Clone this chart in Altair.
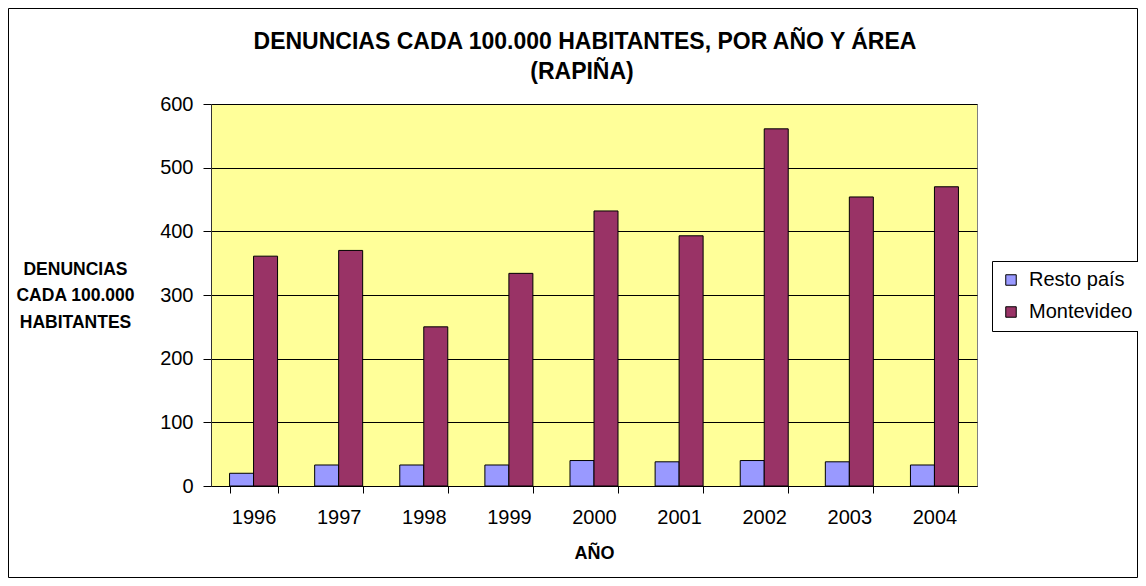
import altair as alt
import pandas as pd

years = ["1996", "1997", "1998", "1999", "2000", "2001", "2002", "2003", "2004"]
resto = [20, 33, 33, 33, 40, 38, 40, 38, 33]
montevideo = [361, 370, 250, 334, 432, 393, 561, 454, 470]
series = ["Resto país", "Montevideo"]
colors = ["#9999FF", "#993366"]
title_lines = ["DENUNCIAS CADA 100.000 HABITANTES, POR AÑO Y ÁREA", "(RAPIÑA)"]

rows = []
for i, y in enumerate(years):
    rows.append({"year": y, "serie": series[0], "value": resto[i]})
    rows.append({"year": y, "serie": series[1], "value": montevideo[i]})
df = pd.DataFrame(rows)

W, H = 766, 382
PL, PT, PR, PB = 203, 96, 161, 92
FONT = "Liberation Sans"

bars = alt.Chart(df).mark_bar(stroke="black", strokeWidth=1).encode(
    x=alt.X(
        "year:N",
        sort=years,
        scale=alt.Scale(paddingInner=0.436, paddingOuter=0.218),
        axis=alt.Axis(
            title="AÑO",
            titleFont=FONT,
            titleFontSize=18,
            titleFontWeight="bold",
            titleColor="black",
            titlePadding=17,
            labelAngle=0,
            labelFont=FONT,
            labelFontSize=20,
            labelColor="black",
            labelPadding=14,
            tickBand="extent",
            tickColor="black",
            tickSize=7,
            domainColor="black",
            grid=False,
        ),
    ),
    xOffset=alt.XOffset("serie:N", sort=series, scale=alt.Scale(domain=series)),
    y=alt.Y(
        "value:Q",
        scale=alt.Scale(domain=[0, 600]),
        axis=alt.Axis(
            values=[0, 100, 200, 300, 400, 500, 600],
            title=["DENUNCIAS", "CADA 100.000", "HABITANTES"],
            titleFont=FONT,
            titleFontSize=17.5,
            titleFontWeight="bold",
            titleColor="black",
            titleAngle=0,
            titleAlign="center",
            titleBaseline="middle",
            titleLineHeight=26.5,
            titleX=-136,
            titleY=165,
            labelFont=FONT,
            labelFontSize=20,
            labelColor="black",
            labelPadding=10,
            tickColor="black",
            tickSize=8,
            domainColor="#333333",
            gridColor="black",
            gridWidth=1,
        ),
    ),
    color=alt.Color(
        "serie:N",
        scale=alt.Scale(domain=series, range=colors),
        legend=alt.Legend(
            title=None,
            orient="none",
            legendX=781,
            legendY=157,
            fillColor="white",
            strokeColor="black",
            padding=9,
            symbolType="square",
            symbolSize=110,
            symbolStrokeColor="black",
            symbolStrokeWidth=1,
            symbolOpacity=1,
            labelFont=FONT,
            labelFontSize=20,
            labelColor="black",
            rowPadding=12,
            labelOffset=8,
        ),
    ),
)

border = alt.Chart(alt.Data(values=[{}])).mark_rect(
    fill=None, stroke="black", strokeWidth=1, clip=False
).encode(
    x=alt.value(-PL + 0.5),
    x2=alt.value(W + PR - 0.5),
    y=alt.value(-PT + 0.5),
    y2=alt.value(H + PB - 0.5),
)

title1 = alt.Chart(alt.Data(values=[{}])).mark_text(
    text=title_lines[0], font=FONT, fontSize=23, fontWeight="bold", color="black",
    align="center", baseline="middle", clip=False,
).encode(x=alt.value(374), y=alt.value(-62))

title2 = alt.Chart(alt.Data(values=[{}])).mark_text(
    text=title_lines[1], font=FONT, fontSize=23, fontWeight="bold", color="black",
    align="center", baseline="middle", clip=False,
).encode(x=alt.value(371), y=alt.value(-32))

chart = alt.layer(bars, border, title1, title2).properties(
    width=W,
    height=H,
    padding={"left": PL, "top": PT, "right": PR, "bottom": PB},
    autosize=alt.AutoSizeParams(type="none"),
    background="white",
).configure_view(
    fill="#FFFF99", stroke="#808080", strokeWidth=1
)

chart.save("out.html", embed_options={"renderer": "svg", "actions": False})
